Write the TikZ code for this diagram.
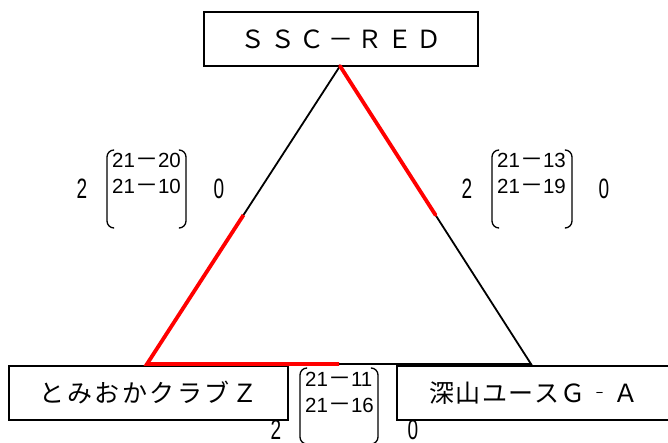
\documentclass[tikz,border=0pt]{standalone}
\usepackage{fontspec}
\usetikzlibrary{calc}
\setmainfont{Liberation Sans}
\newfontfamily\jp{Noto Sans CJK JP}
\newcommand\sr[2]{#1{\jp\fontsize{23}{23}\selectfont －}#2}
\tikzset{
  box/.style={draw, line width=1.2pt, minimum height=54pt, inner sep=0pt},
  edge/.style={line width=1.8pt},
  win/.style={red, line width=3.8pt},
  bracket/.style={line width=1.3pt, rounded corners=7pt},
  score/.style={font=\fontsize{20.5}{20.5}\selectfont, anchor=base west, inner sep=0pt},
  big/.style={font=\fontsize{28}{28}\selectfont, anchor=base, inner sep=0pt}
}
\begin{document}
\begin{tikzpicture}[x=1pt,y=1pt]
\useasboundingbox (0,0) rectangle (668,-443);
\clip (0,0) rectangle (668,-443);
\fill[white] (0,0) rectangle (668,-443);

% boxes
\node[box, minimum width=274pt, font=\jp\fontsize{25}{25}\selectfont\addfontfeature{LetterSpace=17}] (top) at (341,-39) {ＳＳＣ－ＲＥＤ};
\node[box, minimum width=279pt, font=\jp\fontsize{25}{25}\selectfont\addfontfeature{LetterSpace=10}] (lbox) at (148.5,-393) {とみおかクラブＺ};
\node[box, minimum width=274pt, font=\jp\fontsize{25}{25}\selectfont\addfontfeature{LetterSpace=6}] (rbox) at (534,-393) {深山ユースＧ‐Ａ};

% triangle
\coordinate (A) at (340,-66);
\coordinate (L) at (147,-364);
\coordinate (R) at (531,-364);
\draw[edge] (A) -- (L) -- (R) -- cycle;
\draw[win, line cap=round] (A) -- ($(A)!0.5!(R)$);
\draw[win, line join=miter] ($(A)!0.5!(L)$) -- (L) -- ($(L)!0.5!(R)$);

% left score
\draw[bracket] (113,-150) -- (107,-150) -- (107,-228) -- (113,-228);
\draw[bracket] (180,-150) -- (186,-150) -- (186,-228) -- (180,-228);
\node[score] (l1) at (112,-168) {\sr{21}{20}};
\node[score] (l2) at (112,-194) {\sr{21}{10}};
\node[big] (lw) at (82,-199) {\scalebox{0.68}[1]{2}};
\node[big] (ll) at (219,-199) {\scalebox{0.68}[1]{0}};

% right score
\draw[bracket] (498,-150) -- (492,-150) -- (492,-228) -- (498,-228);
\draw[bracket] (566,-150) -- (572,-150) -- (572,-228) -- (566,-228);
\node[score] (r1) at (497,-168) {\sr{21}{13}};
\node[score] (r2) at (497,-194) {\sr{21}{19}};
\node[big] (rw) at (467,-199) {\scalebox{0.68}[1]{2}};
\node[big] (rl) at (604,-199) {\scalebox{0.68}[1]{0}};

% bottom score
\draw[bracket] (306,-368) -- (300,-368) -- (300,-444) -- (306,-444);
\draw[bracket] (372,-368) -- (378,-368) -- (378,-444) -- (372,-444);
\node[score] (b1) at (305,-386) {\sr{21}{11}};
\node[score] (b2) at (305,-412) {\sr{21}{16}};
\node[big] (bw) at (276,-439.5) {\scalebox{0.68}[1]{2}};
\node[big] (bl) at (413,-439.5) {\scalebox{0.68}[1]{0}};
\end{tikzpicture}
\end{document}
